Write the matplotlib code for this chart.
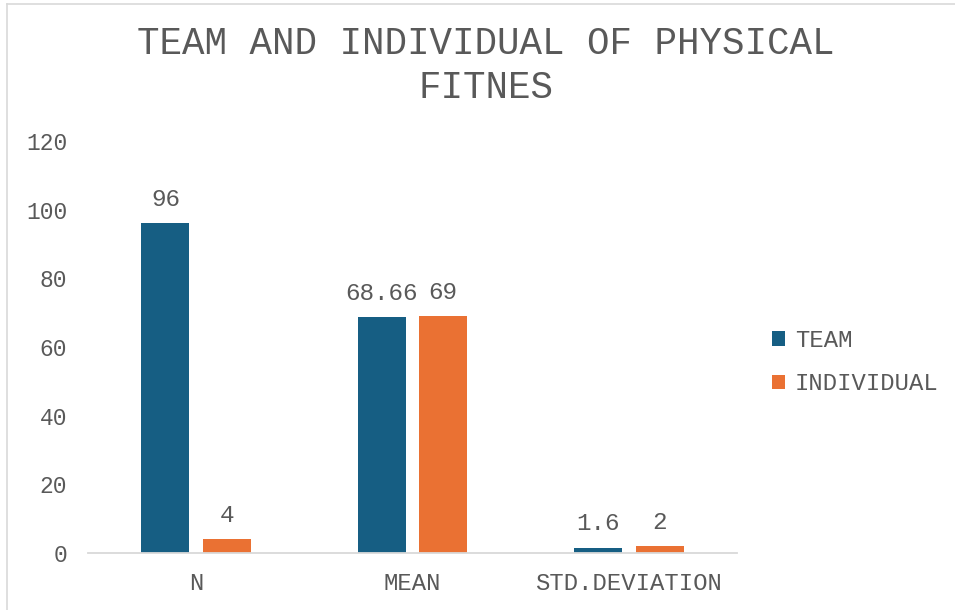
import matplotlib
matplotlib.use("Agg")
import matplotlib.pyplot as plt
from matplotlib.patches import Patch
from matplotlib.lines import Line2D
import numpy as np

categories = ["N", "MEAN", "STD.DEVIATION"]
series_names = ["TEAM", "INDIVIDUAL"]
team = [96, 68.66, 1.6]
individual = [4, 69, 2]
yticks = [0, 20, 40, 60, 80, 100, 120]
title = "TEAM AND INDIVIDUAL OF PHYSICAL\nFITNES"

c_team = "#165E83"
c_ind = "#EA7133"
txt = "#595959"
font = "Liberation Mono"

W, H = 955, 610
fig = plt.figure(figsize=(W / 100, H / 100), dpi=100)
ax = fig.add_axes([88 / W, 1 - 553 / H, (737 - 88) / W, (553 - 141) / H])

x = np.arange(len(categories))
bw = 0.222
off = 0.142
b1 = ax.bar(x - off, team, bw, color=c_team, zorder=3)
b2 = ax.bar(x + off, individual, bw, color=c_ind, zorder=3)

for bars, vals in ((b1, team), (b2, individual)):
    for r, v in zip(bars, vals):
        ax.annotate(f"{v:g}", (r.get_x() + r.get_width() / 2, r.get_height()),
                    xytext=(0, 9), textcoords="offset points",
                    ha="center", va="bottom", fontsize=17.5,
                    family=font, color=txt)

ax.set_xlim(-0.5, 2.5)
ax.set_ylim(0, 120)
ax.set_yticks(yticks)
ax.set_yticklabels([str(t) for t in yticks], family=font, fontsize=16.5, color=txt)
ax.set_xticks(x)
ax.set_xticklabels(categories, family=font, fontsize=17.2, color=txt)
ax.tick_params(axis="both", length=0)
ax.tick_params(axis="y", pad=15)
ax.tick_params(axis="x", pad=14)
for s in ("top", "right", "left"):
    ax.spines[s].set_visible(False)
ax.spines["bottom"].set_color("#D9D9D9")
ax.spines["bottom"].set_linewidth(1.3)
ax.spines["bottom"].set_zorder(4)

fig.text(486 / W, 1 - 66 / H, title, ha="center", va="center",
         family=font, fontsize=27, color=txt, linespacing=1.3)

handles = [Patch(facecolor=c_team), Patch(facecolor=c_ind)]
leg = fig.legend(handles, series_names, loc="center left",
                 bbox_to_anchor=(772 / W, 1 - 362 / H),
                 frameon=False, prop={"family": font, "size": 17.2},
                 handlelength=0.55, handleheight=0.55, handletextpad=0.4,
                 labelspacing=0.85, borderpad=0, borderaxespad=0)
for t in leg.get_texts():
    t.set_color(txt)

# chart border
fig.add_artist(Line2D([7 / W, 1], [1 - 4 / H, 1 - 4 / H], color="#D9D9D9", lw=1.2))
fig.add_artist(Line2D([7 / W, 7 / W], [0, 1 - 4 / H], color="#D9D9D9", lw=1.2))

fig.savefig("out.png", dpi=100)
